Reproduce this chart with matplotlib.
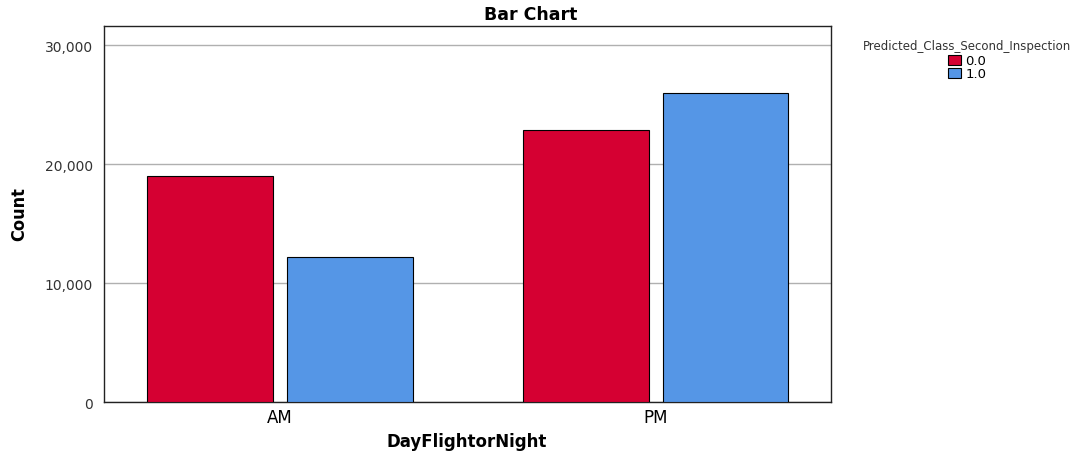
import matplotlib.pyplot as plt
from matplotlib.ticker import FuncFormatter

categories = ['AM', 'PM']
series_names = ['0.0', '1.0']
count_0 = [19000, 22850]
count_1 = [12200, 26000]
colors = ['#d50032', '#5596e6']

fig = plt.figure(figsize=(10.78, 4.56), dpi=100)
ax = fig.add_axes([0.0965, 0.1162, 0.6745, 0.8246])

x = list(range(len(categories)))
w = 0.335
off = 0.185
ax.bar([i - off for i in x], count_0, width=w, color=colors[0], edgecolor='black', linewidth=0.8, label=series_names[0], zorder=3)
ax.bar([i + off for i in x], count_1, width=w, color=colors[1], edgecolor='black', linewidth=0.8, label=series_names[1], zorder=3)

ax.set_xlim(-0.468, 1.466)
ax.set_ylim(0, 31600)
ax.set_yticks([0, 10000, 20000, 30000])
ax.yaxis.set_major_formatter(FuncFormatter(lambda v, p: f'{int(v):,}'))
ax.set_xticks(x)
ax.set_xticklabels(categories, fontsize=12)
ax.tick_params(axis='y', labelsize=10, length=0, pad=8, colors='#333333')
ax.tick_params(axis='x', length=0, pad=4)
ax.grid(axis='y', color='#b0b0b0', linewidth=1, zorder=0)
for s in ax.spines.values():
    s.set_color('#222222')
    s.set_linewidth(1)

fig.text(531 / 1078, 1 - 15 / 456, 'Bar Chart', fontsize=12.5, fontweight='bold',
         ha='center', va='center')
fig.text(467 / 1078, 1 - 442 / 456, 'DayFlightorNight', fontsize=12, fontweight='bold',
         ha='center', va='center')
fig.text(19 / 1078, 1 - 214 / 456, 'Count', fontsize=13, fontweight='bold',
         fontstretch='condensed', rotation=90, ha='center', va='center')

leg = ax.legend(loc='upper center', bbox_to_anchor=(967 / 1078, 1 - 33 / 456),
                bbox_transform=fig.transFigure, frameon=False, fontsize=9.5,
                title='Predicted_Class_Second_Inspection', title_fontsize=8.5,
                handlelength=1.0, handleheight=0.8, handletextpad=0.3,
                labelspacing=0.0, borderpad=0)
leg._legend_box.align = 'center'
leg.get_title().set_color('#333333')
leg._legend_box.sep = 2

plt.savefig('out.png', dpi=100)
